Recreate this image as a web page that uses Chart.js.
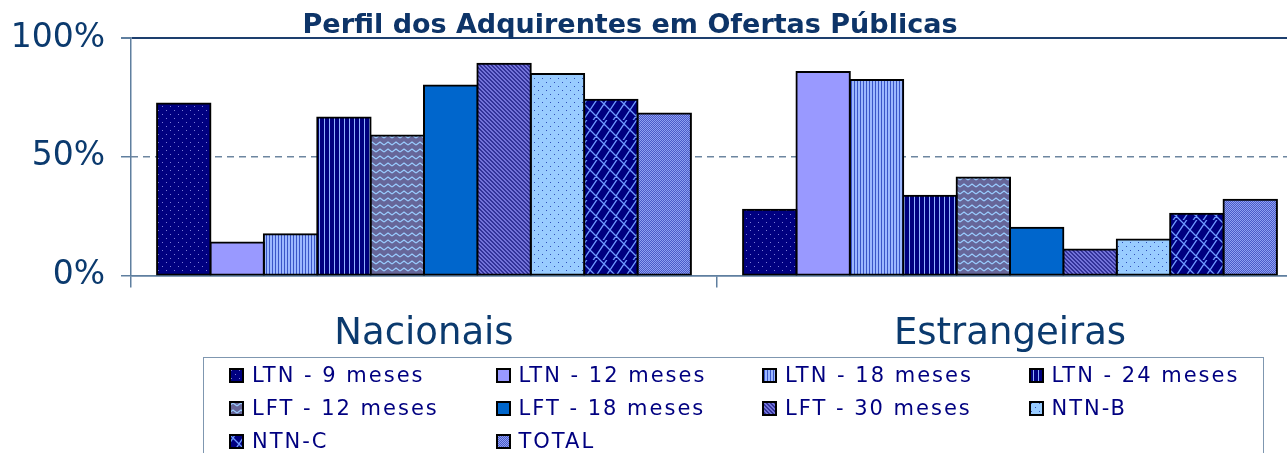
<!DOCTYPE html>
<html><head><meta charset="utf-8">
<script src="https://cdn.jsdelivr.net/npm/chart.js@4.4.1/dist/chart.umd.min.js"></script>
<style>
html,body{margin:0;padding:0;background:#fff;overflow:hidden;width:1287px;height:453px;}
#wrap{position:absolute;left:0;top:0;width:1320px;height:453px;}
#legendFrame{position:absolute;left:203px;top:357px;width:1061px;height:110px;border:1px solid #7f97b0;box-sizing:border-box;}
.item{position:absolute;height:24px;line-height:24px;display:flex;align-items:center;white-space:nowrap;font-family:"DejaVu Sans";font-size:21px;color:#000080;letter-spacing:2px;}
.item canvas{width:15px;height:15px;margin-right:8px;display:block;}
</style></head>
<body>
<div id="wrap"><canvas id="c" width="1320" height="453"></canvas></div>
<div id="legendFrame"></div>
<div id="legend"></div>
<script>
// ---- data ----
const categories = ['Nacionais', 'Estrangeiras'];
const seriesNames = ['LTN - 9 meses','LTN - 12 meses','LTN - 18 meses','LTN - 24 meses','LFT - 12 meses','LFT - 18 meses','LFT - 30 meses','NTN-B','NTN-C','TOTAL'];
const ltn9  = [72.4, 27.7];
const ltn12 = [13.9, 85.7];
const ltn18 = [17.4, 82.3];
const ltn24 = [66.5, 33.6];
const lft12 = [58.9, 41.3];
const lft18 = [80.0, 20.1];
const lft30 = [89.2, 10.9];
const ntnB  = [84.8, 15.2];
const ntnC  = [74.0, 26.0];
const total = [68.2, 31.9];
const yTicks = [0, 50, 100];
const chartTitle = 'Perfil dos Adquirentes em Ofertas Públicas';

const seriesValues = [ltn9, ltn12, ltn18, ltn24, lft12, lft18, lft30, ntnB, ntnC, total];

// ---- pattern tiles ----
function tile(w, h, draw) { const c = document.createElement('canvas'); c.width = w; c.height = h; const g = c.getContext('2d'); draw(g, w, h); return c; }
function px(g, col, pts) { g.fillStyle = col; pts.forEach(p => g.fillRect(p[0], p[1], 1, 1)); }
const tiles = [
  tile(8, 8, (g) => { g.fillStyle = '#000080'; g.fillRect(0,0,8,8); px(g, '#7b7bd6', [[2,2],[6,6]]); }),
  tile(2, 2, (g) => { g.fillStyle = '#9999FF'; g.fillRect(0,0,2,2); }),
  tile(3, 2, (g) => { g.fillStyle = '#9cb8ff'; g.fillRect(0,0,3,2); g.fillStyle = '#3a56c8'; g.fillRect(2,0,1,2); }),
  tile(5, 2, (g) => { g.fillStyle = '#000080'; g.fillRect(0,0,5,2); g.fillStyle = '#8fb0ff'; g.fillRect(4,0,1,2); }),
  tile(8, 7, (g) => { g.fillStyle = '#666699'; g.fillRect(0,0,8,7); g.strokeStyle = '#99ccff'; g.lineWidth = 1.2; g.beginPath(); g.moveTo(0,5); g.lineTo(4,2); g.lineTo(8,5); g.stroke(); }),
  tile(2, 2, (g) => { g.fillStyle = '#0066CC'; g.fillRect(0,0,2,2); }),
  tile(4, 4, (g) => { g.fillStyle = '#333399'; g.fillRect(0,0,4,4); px(g, '#7373d9', [[0,0],[1,1],[2,2],[3,3],[1,0],[2,1],[3,2],[0,3]]); }),
  tile(8, 8, (g) => { g.fillStyle = '#99ccff'; g.fillRect(0,0,8,8); px(g, '#2f4fb8', [[2,2],[6,6]]); }),
  tile(20, 20, (g) => {
    g.fillStyle = '#000080'; g.fillRect(0,0,20,20);
    g.strokeStyle = '#6f9bff'; g.lineWidth = 1.3; g.beginPath();
    for (let c = -20; c <= 60; c += 10) { g.moveTo(c + 20, -20); g.lineTo(c - 20, 20 + 20); }
    for (let c = -40; c <= 60; c += 10) {
      const odd = Math.abs(c / 10) % 2 === 1;
      for (let t = -40; t <= 60; t += 10) {
        const t0 = t + (odd ? 5 : 0);
        g.moveTo(t0, c - t0); g.lineTo(t0 + 5, c - t0 + 5);
      }
    }
    g.stroke();
  }),
  tile(2, 2, (g) => { g.fillStyle = '#4a5ac8'; g.fillRect(0,0,2,2); px(g, '#8fa0f2', [[0,0],[1,1]]); })
];

const canvas = document.getElementById('c');
const ctx = canvas.getContext('2d');
const datasets = seriesNames.map((name, i) => ({
  label: name,
  data: seriesValues[i],
  backgroundColor: ctx.createPattern(tiles[i], 'repeat'),
  borderColor: '#000000',
  borderWidth: 2,
  borderSkipped: false,
  inflateAmount: 1,
  categoryPercentage: 0.911,
  barPercentage: 1.0
}));

const axisColor = '#5f7f9f';
const textColor = '#0b3a6e';

const dashPlugin = {
  id: 'dash50',
  beforeDatasetsDraw(chart) {
    const y = chart.scales.y.getPixelForValue(50);
    const a = chart.chartArea, g = chart.ctx;
    g.save(); g.strokeStyle = '#6d86a0'; g.lineWidth = 1.5; g.setLineDash([7, 5]);
    g.beginPath(); g.moveTo(a.left, y); g.lineTo(a.right, y); g.stroke(); g.restore();
  }
};
const titlePlugin = {
  id: 'titleText',
  afterDraw(chart) {
    const g = chart.ctx; g.save();
    g.font = 'bold 27px "DejaVu Sans"'; g.fillStyle = '#0d3468'; g.textAlign = 'center'; g.textBaseline = 'alphabetic';
    g.fillText(chartTitle, 630, 33); g.restore();
  }
};

new Chart(canvas, {
  type: 'bar',
  data: { labels: categories, datasets },
  options: {
    responsive: false, animation: false, devicePixelRatio: 1,
    layout: { padding: { left: 0, right: 17, top: 38, bottom: 0 } },
    plugins: { legend: { display: false }, title: { display: false }, tooltip: { enabled: false } },
    scales: {
      x: {
        afterFit: (s) => { s.height = 177.5; },
        grid: { display: true, drawOnChartArea: false, drawTicks: true, tickLength: 12, color: axisColor, tickColor: axisColor, lineWidth: 1.5 },
        border: { display: true, color: axisColor, width: 1.5 },
        ticks: { font: { family: 'DejaVu Sans', size: 37 }, color: textColor, padding: 25 }
      },
      y: {
        min: 0, max: 100,
        afterFit: (s) => { s.width = 131; },
        afterBuildTicks: (s) => { s.ticks = yTicks.map(v => ({ value: v })); },
        ticks: { callback: (v) => v + '%', font: { family: 'DejaVu Sans', size: 33 }, color: textColor, padding: 16 },
        grid: {
          color: (c) => c.tick && c.tick.value === 100 ? '#1d3f6e' : (c.tick && c.tick.value === 0 ? axisColor : 'rgba(0,0,0,0)'),
          lineWidth: (c) => c.tick && c.tick.value === 100 ? 2 : 1.5,
          tickColor: axisColor, tickLength: 10, drawTicks: true
        },
        border: { display: true, color: axisColor, width: 1.5 }
      }
    }
  },
  plugins: [dashPlugin, titlePlugin]
});

// ---- HTML legend (4 columns) ----
const legend = document.getElementById('legend');
seriesNames.forEach((name, i) => {
  const col = i % 4, row = Math.floor(i / 4);
  const it = document.createElement('div');
  it.className = 'item';
  it.style.left = (229 + col * 266.5) + 'px';
  it.style.top = (363 + row * 33) + 'px';
  const sw = document.createElement('canvas'); sw.width = 15; sw.height = 15;
  const sg = sw.getContext('2d');
  sg.fillStyle = sg.createPattern(tiles[i], 'repeat'); sg.fillRect(0, 0, 15, 15);
  sg.strokeStyle = '#000'; sg.lineWidth = 2; sg.strokeRect(1, 1, 13, 13);
  const tx = document.createElement('span'); tx.textContent = name;
  it.appendChild(sw); it.appendChild(tx); legend.appendChild(it);
});
</script>
</body></html>
